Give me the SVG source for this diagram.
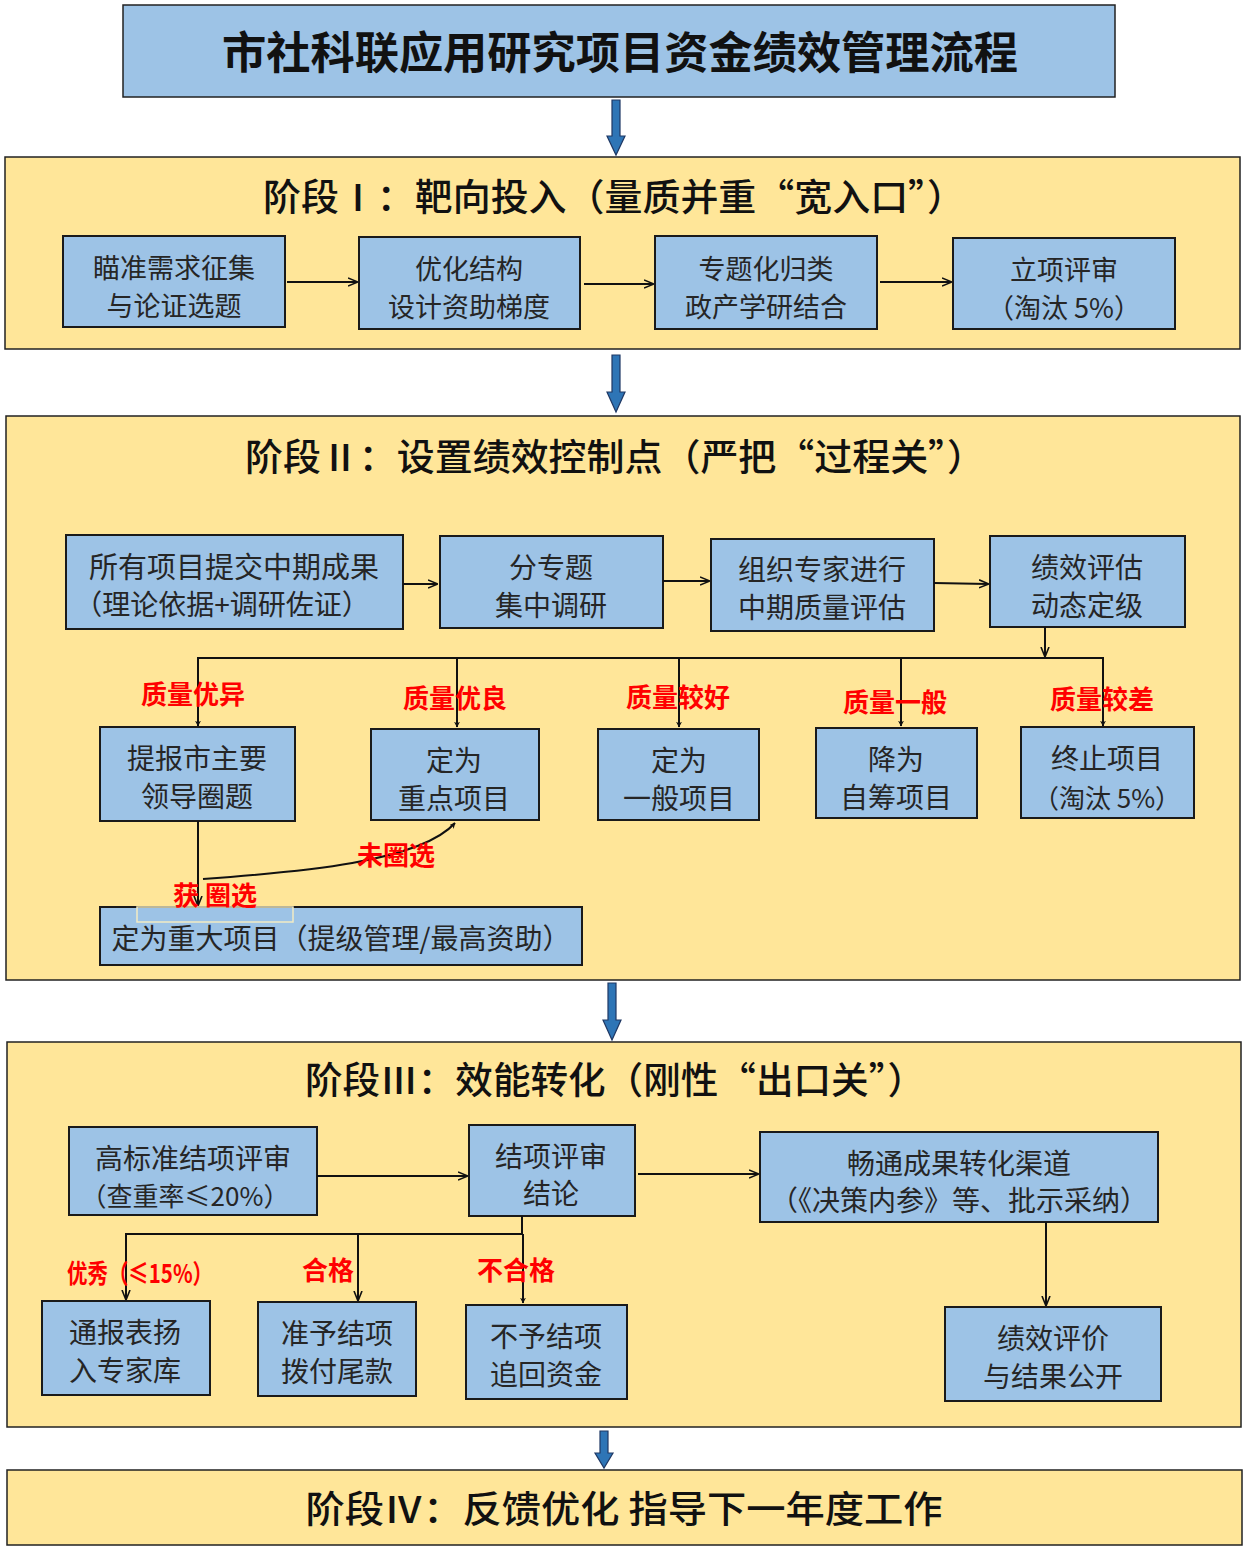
<svg xmlns="http://www.w3.org/2000/svg" width="1248" height="1551" viewBox="0 0 1248 1551">
<defs>
<style>
.panel{fill:#FFE699;stroke:#222;stroke-width:1.5}
.box{fill:#9DC3E6;stroke:#1a1a1a;stroke-width:2}
.t{font-family:"Noto Sans CJK SC","Liberation Sans",sans-serif;fill:#262626;text-anchor:middle;dominant-baseline:central}
.bt{font-size:28px}
.st{font-size:37px;fill:#111;font-weight:500}
.red{font-family:"Noto Sans CJK SC",sans-serif;font-size:26px;font-weight:bold;fill:#FF0000;text-anchor:middle;dominant-baseline:central}
.ln{fill:none;stroke:#111;stroke-width:2}
.blk{fill:#2E75B6;stroke:#1F3864;stroke-width:1.2}
</style>
<marker id="ah" viewBox="0 0 10 10" refX="9" refY="5" markerWidth="6" markerHeight="6" orient="auto" markerUnits="userSpaceOnUse">
<path d="M0,0 L10,5 L0,10 L3,5 Z" fill="#111"/>
</marker>
<marker id="ah2" viewBox="0 0 10 10" refX="9" refY="5" markerWidth="10" markerHeight="10" orient="auto" markerUnits="userSpaceOnUse">
<path d="M0,1 L10,5 L0,9" fill="none" stroke="#111" stroke-width="1.6"/>
</marker>
</defs>
<rect width="1248" height="1551" fill="#FFFFFF"/>

<g id="title">
<rect x="123" y="5" width="992" height="92" fill="#9DC3E6" stroke="#222" stroke-width="1.5"/>
<text class="t" x="620" y="50" font-size="44" font-weight="bold" style="fill:#111" textLength="796" lengthAdjust="spacingAndGlyphs">市社科联应用研究项目资金绩效管理流程</text>
</g>

<g id="stage1">
<rect class="panel" x="5" y="157" width="1235" height="192"/>
<text class="t st" x="614" y="195" textLength="702" lengthAdjust="spacingAndGlyphs">阶段Ⅰ：靶向投入（量质并重“宽入口”）</text>
</g>
<g id="s1a"><rect class="box" x="63" y="236" width="222" height="91"/><text class="t" font-size="27" x="174" y="266">瞄准需求征集</text><text class="t" font-size="27" x="174" y="304">与论证选题</text></g>
<g id="s1b"><rect class="box" x="359" y="237" width="221" height="92"/><text class="t" font-size="27" x="469" y="267">优化结构</text><text class="t" font-size="27" x="469" y="305">设计资助梯度</text></g>
<g id="s1c"><rect class="box" x="655" y="236" width="222" height="93"/><text class="t" font-size="27" x="766" y="267">专题化归类</text><text class="t" font-size="27" x="766" y="305">政产学研结合</text></g>
<g id="s1d"><rect class="box" x="953" y="238" width="222" height="91"/><text class="t" font-size="27" x="1064" y="268">立项评审</text><text class="t" font-size="27" x="1064" y="306">（淘汰 5%）</text></g>

<g id="stage2">
<rect class="panel" x="6" y="416" width="1234" height="564"/>
<text class="t st" x="615" y="455" textLength="740" lengthAdjust="spacingAndGlyphs">阶段Ⅱ：设置绩效控制点（严把“过程关”）</text>
</g>
<g id="s2a"><rect class="box" x="66" y="535" width="337" height="94"/><text class="t" font-size="29" x="234" y="565">所有项目提交中期成果</text><text class="t bt" x="222" y="603">（理论依据+调研佐证）</text></g>
<g id="s2b"><rect class="box" x="440" y="536" width="223" height="92"/><text class="t bt" x="551" y="566">分专题</text><text class="t bt" x="551" y="604">集中调研</text></g>
<g id="s2c"><rect class="box" x="711" y="539" width="223" height="92"/><text class="t bt" x="822" y="568">组织专家进行</text><text class="t bt" x="822" y="606">中期质量评估</text></g>
<g id="s2d"><rect class="box" x="990" y="536" width="195" height="91"/><text class="t bt" x="1087" y="566">绩效评估</text><text class="t bt" x="1087" y="604">动态定级</text></g>
<g id="s2e"><rect class="box" x="100" y="727" width="195" height="94"/><text class="t bt" x="197" y="757">提报市主要</text><text class="t bt" x="197" y="795">领导圈题</text></g>
<g id="s2f"><rect class="box" x="371" y="729" width="168" height="91"/><text class="t bt" x="454" y="759">定为</text><text class="t bt" x="454" y="797">重点项目</text></g>
<g id="s2g"><rect class="box" x="598" y="729" width="161" height="91"/><text class="t bt" x="679" y="759">定为</text><text class="t bt" x="679" y="797">一般项目</text></g>
<g id="s2h"><rect class="box" x="816" y="728" width="161" height="90"/><text class="t bt" x="896" y="758">降为</text><text class="t bt" x="896" y="796">自筹项目</text></g>
<g id="s2i"><rect class="box" x="1021" y="727" width="173" height="91"/><text class="t bt" x="1107" y="757">终止项目</text><text class="t" font-size="26" x="1107" y="796">（淘汰 5%）</text></g>
<g id="s2j"><rect class="box" x="100" y="907" width="482" height="58"/><text class="t bt" x="341" y="937">定为重大项目（提级管理/最高资助）</text>
<rect x="137" y="907" width="156" height="15" fill="none" stroke="#F2EBC4" stroke-width="1.5"/></g>

<g id="stage3">
<rect class="panel" x="7" y="1042" width="1234" height="385"/>
<text class="t st" x="615" y="1078" textLength="620" lengthAdjust="spacingAndGlyphs">阶段Ⅲ：效能转化（刚性“出口关”）</text>
</g>
<g id="s3a"><rect class="box" x="69" y="1127" width="248" height="88"/><text class="t bt" x="193" y="1157">高标准结项评审</text><text class="t" font-size="26" x="185" y="1194">（查重率≤20%）</text></g>
<g id="s3b"><rect class="box" x="469" y="1125" width="166" height="91"/><text class="t bt" x="551" y="1155">结项评审</text><text class="t bt" x="551" y="1192">结论</text></g>
<g id="s3c"><rect class="box" x="760" y="1132" width="398" height="90"/><text class="t bt" x="959" y="1162">畅通成果转化渠道</text><text class="t bt" x="959" y="1199">（《决策内参》等、批示采纳）</text></g>
<g id="s3d"><rect class="box" x="945" y="1307" width="216" height="94"/><text class="t bt" x="1053" y="1337">绩效评价</text><text class="t bt" x="1053" y="1375">与结果公开</text></g>
<g id="s3e"><rect class="box" x="42" y="1301" width="168" height="94"/><text class="t bt" x="125" y="1331">通报表扬</text><text class="t bt" x="125" y="1369">入专家库</text></g>
<g id="s3f"><rect class="box" x="258" y="1302" width="158" height="94"/><text class="t bt" x="337" y="1332">准予结项</text><text class="t bt" x="337" y="1370">拨付尾款</text></g>
<g id="s3g"><rect class="box" x="466" y="1305" width="161" height="94"/><text class="t bt" x="546" y="1335">不予结项</text><text class="t bt" x="546" y="1373">追回资金</text></g>

<g id="stage4">
<rect class="panel" x="7" y="1470" width="1235" height="75"/>
<text class="t st" x="624" y="1507" textLength="637" lengthAdjust="spacingAndGlyphs">阶段Ⅳ：反馈优化 指导下一年度工作</text>
</g>

<g id="connectors">
<path class="blk" d="M612,100 H620 V136 H625 L616,155 L607,136 H612 Z"/>
<path class="blk" d="M612,355 H620 V392 H625 L616,412 L607,392 H612 Z"/>
<path class="blk" d="M608,983 H616 V1020 H621 L612,1040 L603,1020 H608 Z"/>
<path class="blk" d="M600,1431 H608 V1453 H613 L604,1468 L595,1453 H600 Z"/>

<line class="ln" x1="287" y1="282" x2="357" y2="282" marker-end="url(#ah2)"/>
<line class="ln" x1="584" y1="284" x2="653" y2="284" marker-end="url(#ah2)"/>
<line class="ln" x1="880" y1="282" x2="951" y2="282" marker-end="url(#ah2)"/>

<line class="ln" x1="403" y1="584" x2="437" y2="584" marker-end="url(#ah2)"/>
<line class="ln" x1="663" y1="581" x2="709" y2="581" marker-end="url(#ah2)"/>
<line class="ln" x1="934" y1="583" x2="988" y2="584" marker-end="url(#ah2)"/>
<line class="ln" x1="1045" y1="627" x2="1045" y2="656" marker-end="url(#ah2)"/>
<line class="ln" x1="197" y1="658" x2="1104" y2="658"/>
<line class="ln" x1="198" y1="658" x2="198" y2="726" marker-end="url(#ah)"/>
<line class="ln" x1="457" y1="658" x2="457" y2="727" marker-end="url(#ah)"/>
<line class="ln" x1="679" y1="658" x2="679" y2="727" marker-end="url(#ah)"/>
<line class="ln" x1="901" y1="658" x2="901" y2="726" marker-end="url(#ah)"/>
<line class="ln" x1="1103" y1="658" x2="1103" y2="726" marker-end="url(#ah)"/>
<line class="ln" x1="198" y1="821" x2="198" y2="905" marker-end="url(#ah2)"/>
<path class="ln" d="M203,879 C300,872 420,862 455,823" marker-end="url(#ah)"/>

<line class="ln" x1="317" y1="1176" x2="467" y2="1176" marker-end="url(#ah2)"/>
<line class="ln" x1="638" y1="1174" x2="758" y2="1174" marker-end="url(#ah2)"/>
<line class="ln" x1="1046" y1="1222" x2="1046" y2="1305" marker-end="url(#ah2)"/>
<line class="ln" x1="522" y1="1216" x2="522" y2="1234"/>
<line class="ln" x1="125" y1="1234" x2="523" y2="1234"/>
<line class="ln" x1="126" y1="1234" x2="126" y2="1299" marker-end="url(#ah2)"/>
<line class="ln" x1="358" y1="1234" x2="358" y2="1300" marker-end="url(#ah2)"/>
<line class="ln" x1="523" y1="1234" x2="523" y2="1303" marker-end="url(#ah)"/>
</g>

<g id="labels">
<text class="red" x="193" y="692">质量优异</text>
<text class="red" x="455" y="696">质量优良</text>
<text class="red" x="678" y="695">质量较好</text>
<text class="red" x="895" y="700">质量一般</text>
<text class="red" x="1102" y="697">质量较差</text>
<text class="red" x="396" y="853">未圈选</text>
<text class="red" x="215" y="893">获 圈选</text>
<text class="red" x="140" y="1271" textLength="146" lengthAdjust="spacingAndGlyphs">优秀（≤15%）</text>
<text class="red" x="328" y="1268">合格</text>
<text class="red" x="516" y="1268">不合格</text>
</g>
</svg>
